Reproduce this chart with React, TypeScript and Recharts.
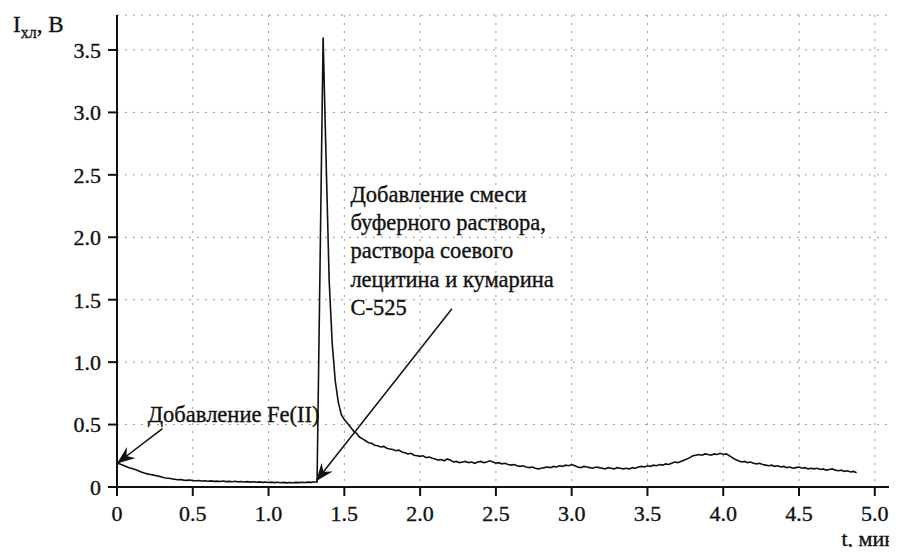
import { LineChart, Line, XAxis, YAxis, CartesianGrid, ReferenceLine, ReferenceDot } from 'recharts';

// chemiluminescence signal, sampled every 0.02 min
const timeMin = [
  0, 0.02, 0.04, 0.06, 0.08, 0.1, 0.12, 0.14, 0.16, 0.18,
  0.2, 0.22, 0.24, 0.26, 0.28, 0.3, 0.32, 0.34, 0.36, 0.38,
  0.4, 0.42, 0.44, 0.46, 0.48, 0.5, 0.52, 0.54, 0.56, 0.58,
  0.6, 0.62, 0.64, 0.66, 0.68, 0.7, 0.72, 0.74, 0.76, 0.78,
  0.8, 0.82, 0.84, 0.86, 0.88, 0.9, 0.92, 0.94, 0.96, 0.98,
  1.0, 1.02, 1.04, 1.06, 1.08, 1.1, 1.12, 1.14, 1.16, 1.18,
  1.2, 1.22, 1.24, 1.26, 1.28, 1.3, 1.32, 1.34, 1.36, 1.38,
  1.4, 1.42, 1.44, 1.46, 1.48, 1.5, 1.52, 1.54, 1.56, 1.58,
  1.6, 1.62, 1.64, 1.66, 1.68, 1.7, 1.72, 1.74, 1.76, 1.78,
  1.8, 1.82, 1.84, 1.86, 1.88, 1.9, 1.92, 1.94, 1.96, 1.98,
  2.0, 2.02, 2.04, 2.06, 2.08, 2.1, 2.12, 2.14, 2.16, 2.18,
  2.2, 2.22, 2.24, 2.26, 2.28, 2.3, 2.32, 2.34, 2.36, 2.38,
  2.4, 2.42, 2.44, 2.46, 2.48, 2.5, 2.52, 2.54, 2.56, 2.58,
  2.6, 2.62, 2.64, 2.66, 2.68, 2.7, 2.72, 2.74, 2.76, 2.78,
  2.8, 2.82, 2.84, 2.86, 2.88, 2.9, 2.92, 2.94, 2.96, 2.98,
  3.0, 3.02, 3.04, 3.06, 3.08, 3.1, 3.12, 3.14, 3.16, 3.18,
  3.2, 3.22, 3.24, 3.26, 3.28, 3.3, 3.32, 3.34, 3.36, 3.38,
  3.4, 3.42, 3.44, 3.46, 3.48, 3.5, 3.52, 3.54, 3.56, 3.58,
  3.6, 3.62, 3.64, 3.66, 3.68, 3.7, 3.72, 3.74, 3.76, 3.78,
  3.8, 3.82, 3.84, 3.86, 3.88, 3.9, 3.92, 3.94, 3.96, 3.98,
  4.0, 4.02, 4.04, 4.06, 4.08, 4.1, 4.12, 4.14, 4.16, 4.18,
  4.2, 4.22, 4.24, 4.26, 4.28, 4.3, 4.32, 4.34, 4.36, 4.38,
  4.4, 4.42, 4.44, 4.46, 4.48, 4.5, 4.52, 4.54, 4.56, 4.58,
  4.6, 4.62, 4.64, 4.66, 4.68, 4.7, 4.72, 4.74, 4.76, 4.78,
  4.8, 4.82, 4.84, 4.86, 4.88,
];

const signalV = [
  0.19, 0.185, 0.175, 0.165, 0.155, 0.148, 0.14, 0.13, 0.12, 0.112,
  0.105, 0.1, 0.095, 0.09, 0.085, 0.078, 0.072, 0.07, 0.066, 0.062,
  0.058, 0.06, 0.055, 0.053, 0.056, 0.051, 0.05, 0.052, 0.048, 0.05,
  0.046, 0.049, 0.045, 0.047, 0.044, 0.048, 0.043, 0.045, 0.042, 0.046,
  0.041, 0.044, 0.04, 0.043, 0.039, 0.042, 0.038, 0.041, 0.037, 0.04,
  0.036, 0.039, 0.035, 0.038, 0.034, 0.037, 0.033, 0.036, 0.034, 0.037,
  0.035, 0.038, 0.036, 0.039, 0.037, 0.04, 0.04, 1.8, 3.6, 2.6,
  1.65, 1.15, 0.85, 0.68, 0.58, 0.54, 0.51, 0.48, 0.45, 0.43,
  0.4, 0.385, 0.37, 0.355, 0.35, 0.335, 0.33, 0.32, 0.325, 0.31,
  0.305, 0.3, 0.29, 0.295, 0.28, 0.275, 0.265, 0.27, 0.255, 0.25,
  0.245, 0.25, 0.235, 0.24, 0.23, 0.225, 0.215, 0.22, 0.21, 0.225,
  0.215, 0.2, 0.205, 0.195, 0.2, 0.205, 0.195, 0.2, 0.19, 0.2,
  0.205, 0.195, 0.2, 0.21, 0.2, 0.19, 0.195, 0.185, 0.19, 0.18,
  0.175, 0.18, 0.17, 0.165, 0.17, 0.16, 0.155, 0.16, 0.15, 0.145,
  0.15, 0.155, 0.16, 0.155, 0.165, 0.16, 0.17, 0.165, 0.175, 0.17,
  0.18, 0.17, 0.16, 0.155, 0.165, 0.16, 0.155, 0.15, 0.16, 0.155,
  0.15, 0.145, 0.155, 0.15, 0.145, 0.155, 0.15, 0.145, 0.15, 0.145,
  0.155, 0.15, 0.16, 0.165, 0.16, 0.17, 0.165, 0.175, 0.17, 0.18,
  0.175, 0.185, 0.18, 0.19, 0.2, 0.195, 0.205, 0.215, 0.225, 0.235,
  0.25, 0.255, 0.26, 0.255, 0.265, 0.26, 0.255, 0.265, 0.26, 0.27,
  0.26, 0.265, 0.25, 0.235, 0.22, 0.21, 0.2, 0.205, 0.195, 0.2,
  0.19, 0.185, 0.19, 0.18, 0.175, 0.17, 0.175, 0.165, 0.17, 0.16,
  0.165, 0.155, 0.16, 0.15, 0.155, 0.16, 0.15, 0.155, 0.145, 0.15,
  0.145, 0.15, 0.14, 0.145, 0.135, 0.14, 0.145, 0.135, 0.13, 0.135,
  0.125, 0.13, 0.12, 0.125, 0.115,
];

const xTicks = [0, 0.5, 1.0, 1.5, 2.0, 2.5, 3.0, 3.5, 4.0, 4.5, 5.0];
const yTicks = [0, 0.5, 1.0, 1.5, 2.0, 2.5, 3.0, 3.5];

const noteFe = ['Добавление Fe(II)'];
const noteMix = [
  'Добавление смеси',
  'буферного раствора,',
  'раствора соевого',
  'лецитина и кумарина',
  'С-525',
];

const data = timeMin.map((t, i) => ({ t, v: signalV[i] }));

const FONT = "'Liberation Serif', serif";
const INK = '#111';
const fmt = (v: number) => (v === 0 ? '0' : v.toFixed(1));

// slight stroke thickens the serif glyphs like the scanned original
const textLook = { fill: INK, stroke: INK, strokeWidth: 0.35 };

const NoteText = ({ viewBox, lines }: any) => (
  <text x={viewBox.x} y={viewBox.y} style={{ fontFamily: FONT, fontSize: 22.5 }} {...textLook}>
    {lines.map((l: string, i: number) => (
      <tspan key={i} x={viewBox.x} dy={i === 0 ? 0 : 28.3}>{l}</tspan>
    ))}
  </text>
);

const YTitle = ({ viewBox }: any) => (
  <text x={viewBox.x + 13} y={viewBox.y + 17} style={{ fontFamily: FONT, fontSize: 23 }} {...textLook}>
    I<tspan style={{ fontSize: 16 }} dy={6}>хл</tspan><tspan dy={-6}>, В</tspan>
  </text>
);

// axis title sits in the bottom-right corner of the figure
const XTitle = () => (
  <text x={896} y={546} textAnchor="end" style={{ fontFamily: FONT, fontSize: 22 }} {...textLook}>
    t, мин
  </text>
);

const tickStyle = { ...textLook, style: { fontFamily: FONT, fontSize: 22 } };

export default function App() {
  return (
    <div style={{ margin: -8, background: '#fff', width: 897, height: 555 }}>
      <LineChart width={897} height={555} data={data} margin={{ top: 15, right: 1, bottom: 0, left: 0 }}>
        <defs>
          <marker id="arrowHead" markerWidth="18" markerHeight="14" refX="17" refY="7" orient="auto" markerUnits="userSpaceOnUse">
            <path d="M0,0 L18,7 L0,14 L6,7 Z" fill={INK} />
          </marker>
        </defs>
        <CartesianGrid stroke="#9a9a9a" strokeDasharray="2 6" />
        <XAxis
          dataKey="t"
          type="number"
          domain={[0, 5.14]}
          ticks={xTicks}
          interval={0}
          tickFormatter={fmt}
          height={68}
          tickSize={9}
          tickMargin={9}
          axisLine={{ stroke: INK, strokeWidth: 2 }}
          tickLine={{ stroke: INK, strokeWidth: 2 }}
          tick={tickStyle}
          label={<XTitle />}
        />
        <YAxis
          type="number"
          domain={[0, 3.78]}
          ticks={yTicks}
          interval={0}
          tickFormatter={fmt}
          width={117}
          tickSize={9}
          tickMargin={7}
          axisLine={{ stroke: INK, strokeWidth: 2 }}
          tickLine={{ stroke: INK, strokeWidth: 2 }}
          tick={tickStyle}
          label={<YTitle />}
        />
        <ReferenceLine
          segment={[{ x: 0.3, y: 0.468 }, { x: 0.005, y: 0.194 }]}
          stroke={INK}
          strokeWidth={1.5}
          markerEnd="url(#arrowHead)"
        />
        <ReferenceLine
          segment={[{ x: 2.21, y: 1.428 }, { x: 1.317, y: 0.052 }]}
          stroke={INK}
          strokeWidth={1.5}
          markerEnd="url(#arrowHead)"
        />
        <ReferenceDot x={0.203} y={0.524} r={0} fill="none" stroke="none" label={<NoteText lines={noteFe} />} />
        <ReferenceDot x={1.54} y={2.284} r={0} fill="none" stroke="none" label={<NoteText lines={noteMix} />} />
        <Line
          type="linear"
          dataKey="v"
          stroke={INK}
          strokeWidth={1.6}
          dot={false}
          isAnimationActive={false}
        />
      </LineChart>
    </div>
  );
}
